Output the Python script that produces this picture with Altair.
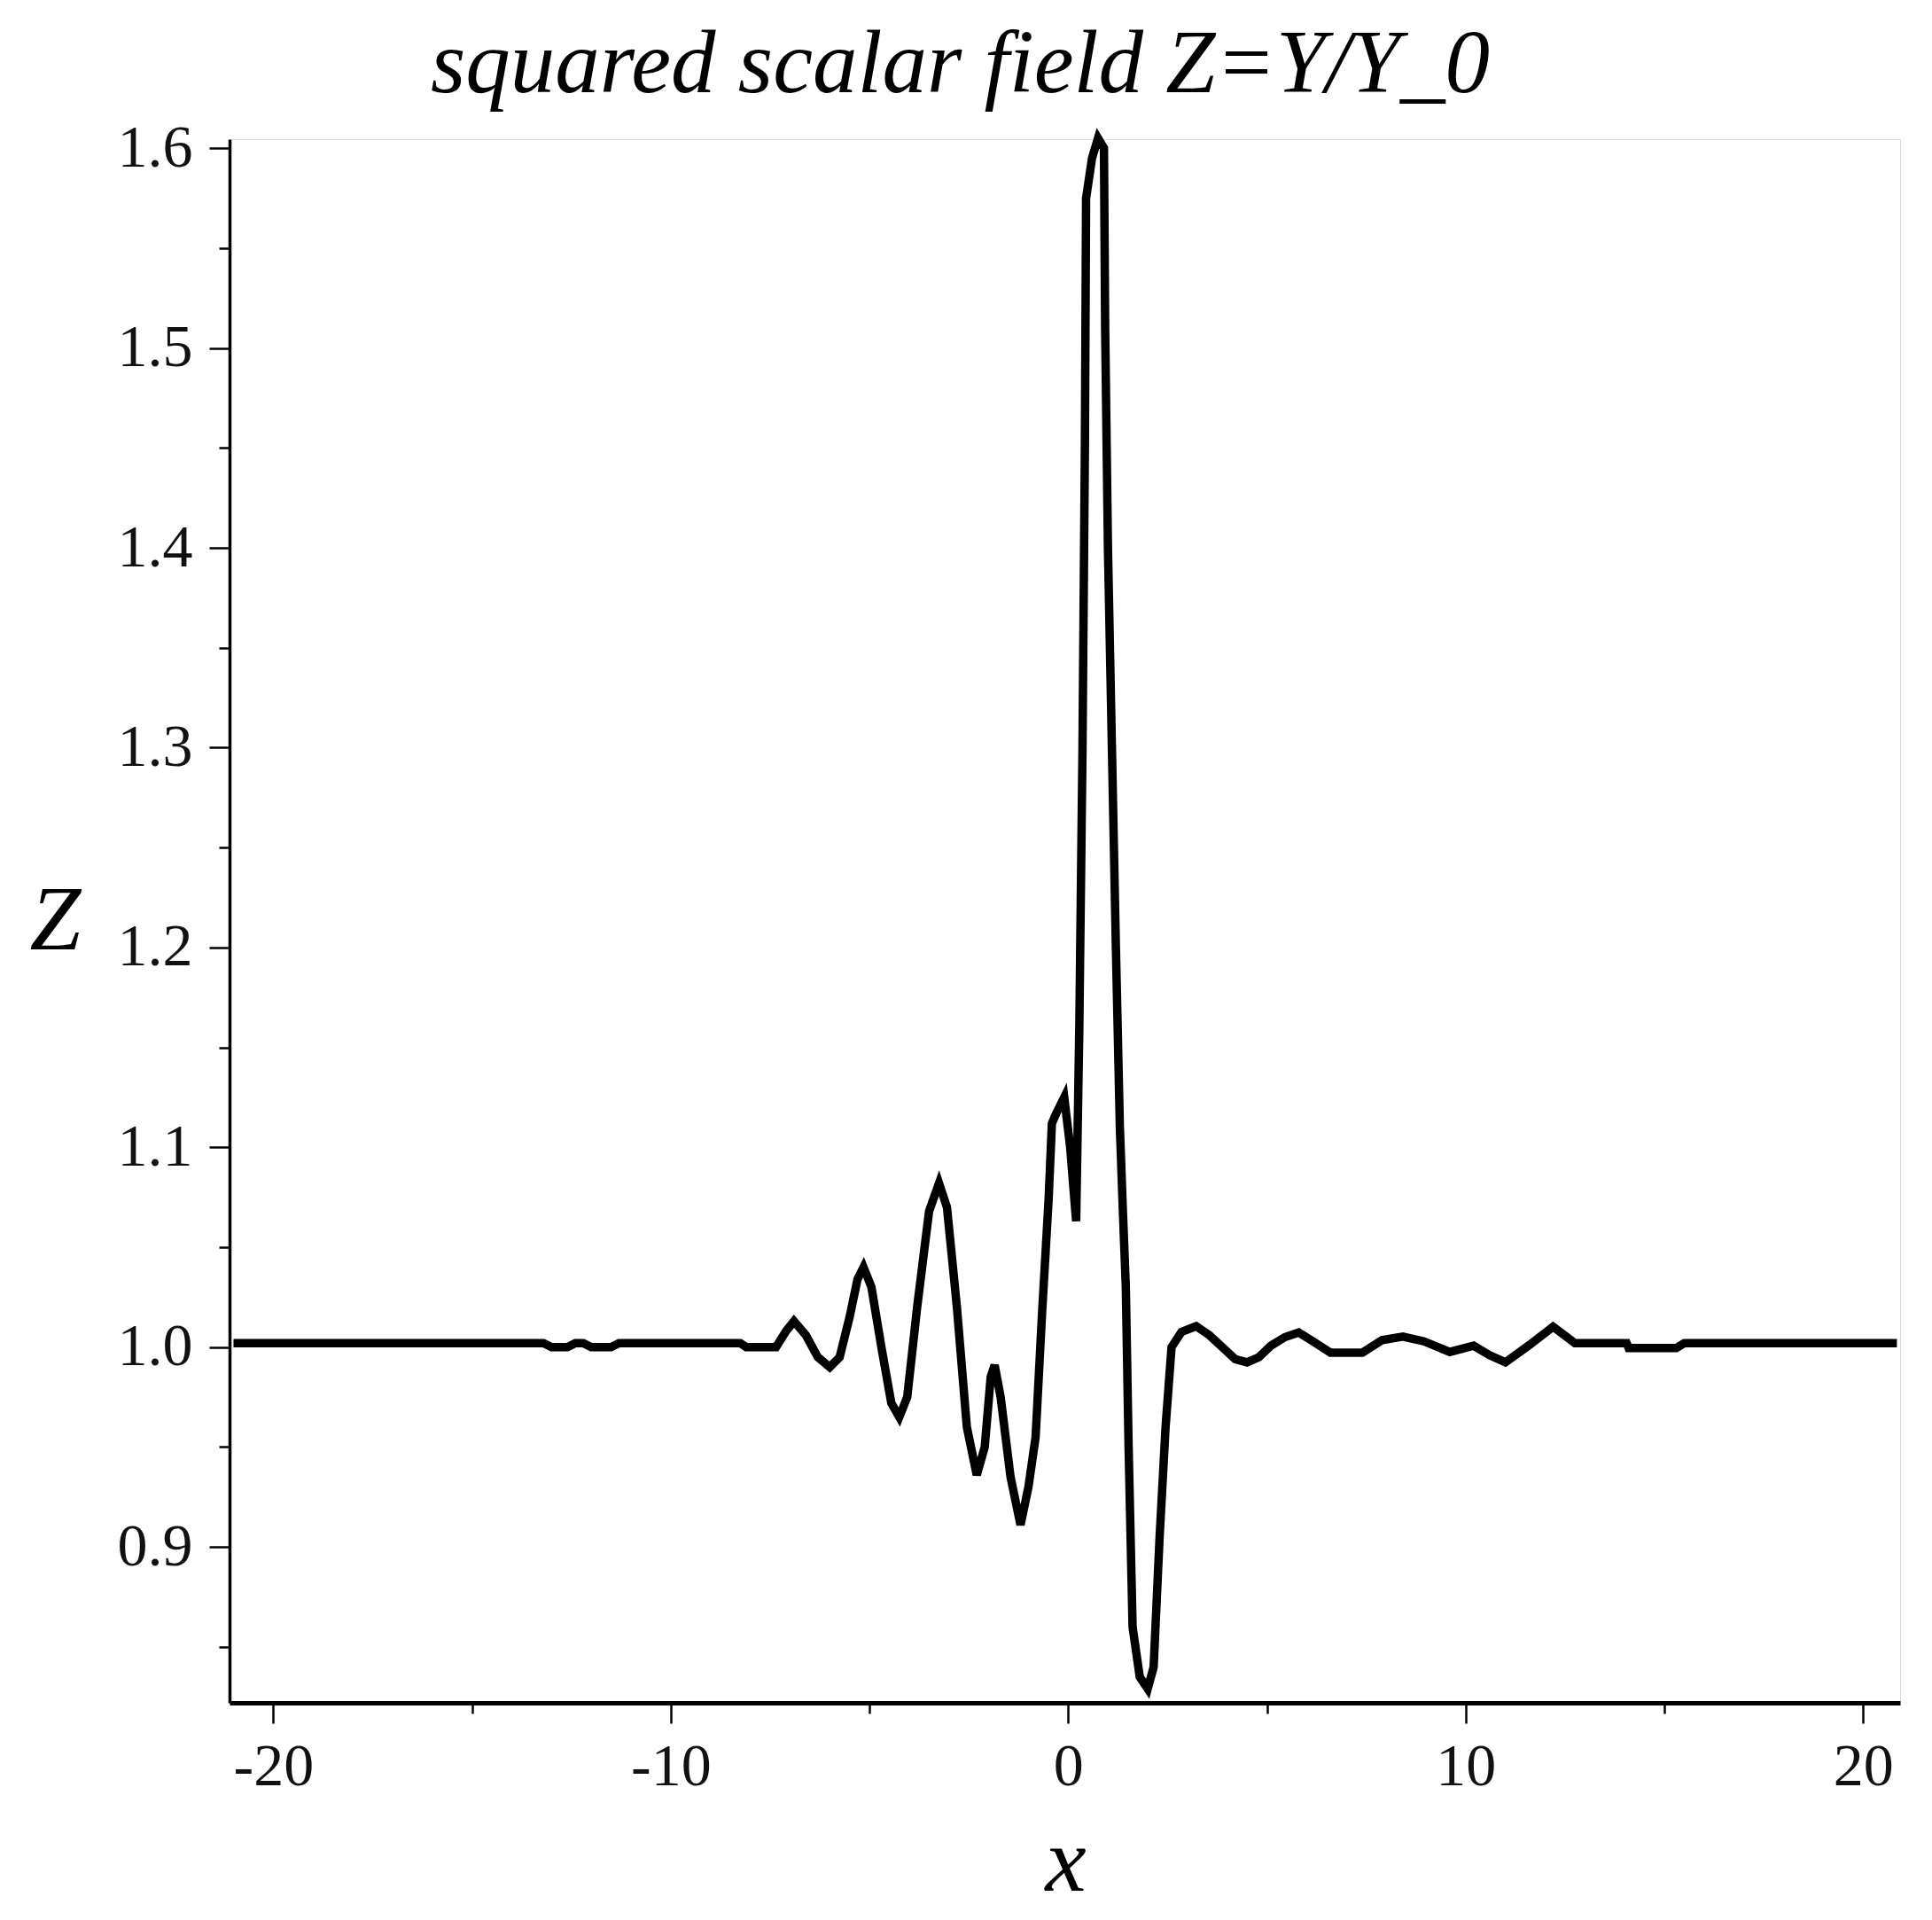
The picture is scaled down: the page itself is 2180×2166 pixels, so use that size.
import altair as alt
import pandas as pd

# curve
x_vals = [-21.0, -13.2, -13.0, -12.6, -12.4, -12.2, -12.0, -11.5, -11.3, -8.25,
          -8.1, -7.35, -7.1, -6.9, -6.6, -6.3, -6.0, -5.75, -5.5, -5.3,
          -5.15, -4.95, -4.7, -4.45, -4.25, -4.05, -3.8, -3.5, -3.25, -3.05,
          -2.8, -2.55, -2.3, -2.1, -1.95, -1.85, -1.7, -1.45, -1.2, -1.0,
          -0.82, -0.66, -0.49, -0.41, -0.3, -0.1, 0.05, 0.2, 0.28, 0.36,
          0.42, 0.45, 0.6, 0.75, 0.9, 0.93, 1.0, 1.1, 1.2, 1.3,
          1.38, 1.45, 1.52, 1.62, 1.8, 2.0, 2.15, 2.3, 2.45, 2.6,
          2.85, 3.22, 3.55, 3.9, 4.2, 4.5, 4.8, 5.1, 5.45, 5.8,
          6.15, 6.6, 7.4, 7.9, 8.42, 8.95, 9.6, 10.2, 10.6, 11.0,
          11.6, 12.2, 12.75, 14.05, 14.1, 15.3, 15.5, 20.85]
z_vals = [1.002, 1.002, 1.000, 1.000, 1.002, 1.002, 1.000, 1.000, 1.002, 1.002,
          1.000, 1.000, 1.008, 1.013, 1.006, 0.995, 0.990, 0.995, 1.015, 1.034,
          1.040, 1.030, 1.000, 0.972, 0.965, 0.975, 1.020, 1.068, 1.082, 1.070,
          1.020, 0.960, 0.936, 0.950, 0.985, 0.991, 0.975, 0.935, 0.911, 0.930,
          0.955, 1.016, 1.075, 1.112, 1.117, 1.125, 1.100, 1.063, 1.160, 1.300,
          1.450, 1.575, 1.595, 1.605, 1.600, 1.510, 1.400, 1.300, 1.200, 1.110,
          1.066, 1.030, 0.950, 0.860, 0.835, 0.829, 0.840, 0.905, 0.960, 1.000,
          1.0076, 1.0105, 1.006, 0.9996, 0.994, 0.9924, 0.995, 1.0007, 1.005, 1.0073,
          1.003, 0.9972, 0.9972, 1.0035, 1.0053, 1.0029, 0.9976, 1.0007, 0.996, 0.9924,
          1.001, 1.0102, 1.002, 1.002, 0.9995, 0.9995, 1.002, 1.002]

x_ticks = [-20, -15, -10, -5, 0, 5, 10, 15, 20]
y_ticks = [0.85, 0.9, 0.95, 1.0, 1.05, 1.1, 1.15, 1.2, 1.25, 1.3, 1.35, 1.4,
           1.45, 1.5, 1.55, 1.6]
x_domain = [-21.1, 20.93]
y_domain = [0.822, 1.6045]

df = pd.DataFrame({"x": x_vals, "Z": z_vals})

FONT = "Liberation Serif"
x_major = "datum.value % 10 === 0"
y_major = "abs(datum.value * 10 - round(datum.value * 10)) < 0.01"

x_axis = alt.Axis(
    values=x_ticks, title="x", grid=False,
    domainColor="black", domainWidth=5,
    tickColor="black", tickWidth=2.5,
    tickSize={"condition": {"test": x_major, "value": 23}, "value": 12},
    labelExpr="datum.value % 10 === 0 ? (datum.value < 0 ? '-' + abs(datum.value) : '' + datum.value) : ''",
    labelFont=FONT, labelFontSize=68, labelColor="#111111", labelPadding=15,
    labelOverlap=False, labelFlush=False, labelBaseline="top",
    titleFont=FONT, titleFontSize=104, titleFontStyle="italic", titleFontWeight="normal",
    titleColor="black", titleX=943, titleY=180, titleBaseline="middle", titleAlign="center",
)
y_axis = alt.Axis(
    values=y_ticks, title="Z", grid=False,
    domainColor="black", domainWidth=3.5,
    tickColor="black", tickWidth=2.5,
    tickSize={"condition": {"test": y_major, "value": 23}, "value": 12},
    labelExpr=y_major + " ? format(datum.value, '.1f') : ''",
    labelFont=FONT, labelFontSize=68, labelColor="#111111", labelPadding=19,
    labelOverlap=False, labelFlush=False, labelBaseline="middle",
    titleFont=FONT, titleFontSize=104, titleFontStyle="italic", titleFontWeight="normal",
    titleColor="black", titleAngle=0, titleX=-197, titleY=882,
    titleBaseline="middle", titleAlign="center",
)

chart = alt.Chart(df).mark_line(color="black", strokeWidth=9.5).encode(
    x=alt.X("x:Q", scale=alt.Scale(domain=x_domain, nice=False, zero=False), axis=x_axis),
    y=alt.Y("Z:Q", scale=alt.Scale(domain=y_domain, nice=False, zero=False), axis=y_axis),
).properties(
    width=1885, height=1764,
    autosize=alt.AutoSizeParams(type="none"),
    padding={"left": 251, "top": 149, "right": 28, "bottom": 245},
    title=alt.TitleParams(
        "squared scalar field Z=Y/Y_0", font=FONT, fontSize=101, fontStyle="italic",
        fontWeight="normal", color="black", anchor="middle", dx=-118, dy=-4,
    ),
).configure_view(stroke=None).configure(background="white")

chart.save("out.html", embed_options={"renderer": "svg", "actions": False})
